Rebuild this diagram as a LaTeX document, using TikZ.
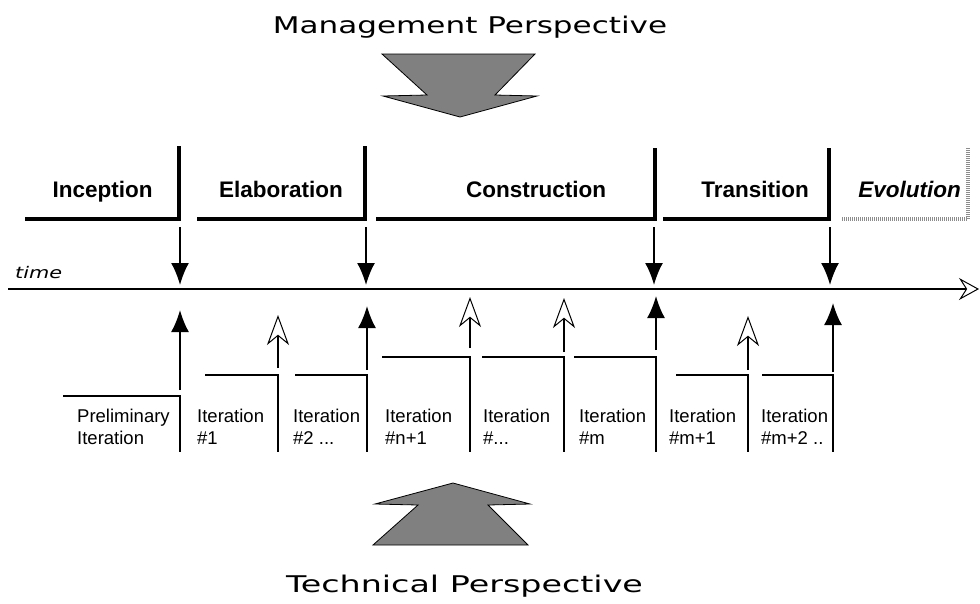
\documentclass[tikz,border=0pt]{standalone}
\usepackage{fontspec}
\setmainfont{Liberation Sans}
\newfontfamily\mgmtfont[FakeStretch=1.35]{DejaVu Sans}
\newfontfamily\techfont[FakeStretch=1.45]{DejaVu Sans}
\newfontfamily\timefont[FakeStretch=1.3]{DejaVu Sans}
\usetikzlibrary{arrows.meta}
\begin{document}
\begin{tikzpicture}[x=1pt,y=-1pt,
  phaseline/.style={line width=4.5pt, line join=miter},
  evoline/.style={line width=4pt, black!45, dash pattern=on 1pt off 1pt},
  phaselabel/.style={font=\fontsize{22.5}{26}\selectfont\bfseries, anchor=base, inner sep=0pt},
  iterline/.style={line width=1.8pt, line join=miter},
  iterlabel/.style={font=\fontsize{18.5}{21.5}\selectfont, anchor=north west, align=left, inner sep=0pt},
  milestone/.style={line width=1.8pt, -{Latex[length=22pt,width=18pt]}},
  minor/.style={line width=1.8pt, -{Stealth[open,length=30pt,width=22pt,inset=9pt,line width=1pt,fill=white]}},
  axis/.style={line width=1.8pt, -{Stealth[open,length=20pt,width=22pt,inset=7pt,line width=1pt,fill=white]}},
  bigarrow/.style={fill=black!50, draw=black, line width=0.8pt, line join=miter},
  title/.style={anchor=base, inner sep=0pt},
]
\useasboundingbox (0,0) rectangle (980,603);

% perspectives
\node[title, font=\mgmtfont\fontsize{23}{27}\selectfont] (mgmt) at (470,33) {Management Perspective};
\node[title, font=\techfont\fontsize{23}{27}\selectfont] (tech) at (464.5,592) {Technical Perspective};
\draw[bigarrow] (382,54) -- (535,54) -- (495,95) -- (537,96) -- (460,117) -- (383,96) -- (427,95) -- cycle;
\draw[bigarrow] (453,483) -- (530,504) -- (488,505) -- (528,545) -- (373,545) -- (418,505) -- (375,504) -- cycle;

% phases
\node[phaselabel] (inc) at (102.5,197) {Inception};
\node[phaselabel] (ela) at (281,197) {Elaboration};
\node[phaselabel] (con) at (536,197) {Construction};
\node[phaselabel] (tra) at (755,197) {Transition};
\node[phaselabel, font=\fontsize{22.5}{26}\selectfont\bfseries\itshape] (evo) at (909.5,197) {Evolution};

\draw[phaseline] (25,219) -- (179,219) -- (179,146);
\draw[phaseline] (197,219) -- (365,219) -- (365,146);
\draw[phaseline] (376,219) -- (655,219) -- (655,148);
\draw[phaseline] (663,219) -- (829,219) -- (829,148);
\draw[evoline] (842,219) -- (968,219) -- (968,148);

% time axis
\coordinate (t0) at (8,289);
\coordinate (t1) at (979,289);
\draw[axis] (t0) -- (t1);
\node[anchor=base west, inner sep=0pt, font=\timefont\itshape\fontsize{16}{18}\selectfont] (time) at (15,278) {time};

% major milestones seen from the management side
\foreach \i/\x in {1/180,2/366,3/654,4/830}{
  \coordinate (ms\i) at (\x,227);
  \coordinate (me\i) at (\x,285);
  \draw[milestone] (ms\i) -- (me\i);
}

% iterations
\draw[iterline] (63,396) -- (180,396) -- (180,452);
\draw[iterline] (205,375) -- (278,375) -- (278,452);
\draw[iterline] (295,375) -- (367,375) -- (367,452);
\draw[iterline] (382,357) -- (470,357) -- (470,452);
\draw[iterline] (482,357) -- (564,357) -- (564,452);
\draw[iterline] (574,357) -- (656,357) -- (656,452);
\draw[iterline] (676,375) -- (748,375) -- (748,452);
\draw[iterline] (762,375) -- (833,375) -- (833,452);

\node[iterlabel] (it0) at (77,409) {Preliminary\\Iteration};
\node[iterlabel] (it1) at (197,409) {Iteration\\\#1};
\node[iterlabel] (it2) at (293,409) {Iteration\\\#2 ...};
\node[iterlabel] (it3) at (385,409) {Iteration\\\#n+1};
\node[iterlabel] (it4) at (483,409) {Iteration\\\#...};
\node[iterlabel] (it5) at (579,409) {Iteration\\\#m};
\node[iterlabel] (it6) at (669,409) {Iteration\\\#m+1};
\node[iterlabel] (it7) at (761,409) {Iteration\\\#m+2 ..};

% releases at the end of each iteration
\foreach \n/\x/\b/\t in {a/180/390/310, b/367/370/306, c/656/350/296, d/833/372/303}{
  \coordinate (rb\n) at (\x,\b);
  \coordinate (rt\n) at (\x,\t);
  \draw[milestone] (rb\n) -- (rt\n);
}
\foreach \n/\x/\b/\t in {a/278/368/315, b/470/348/297, c/564/352/298, d/748/370/316}{
  \coordinate (hb\n) at (\x,\b);
  \coordinate (ht\n) at (\x,\t);
  \draw[minor] (hb\n) -- (ht\n);
}
\end{tikzpicture}
\end{document}
